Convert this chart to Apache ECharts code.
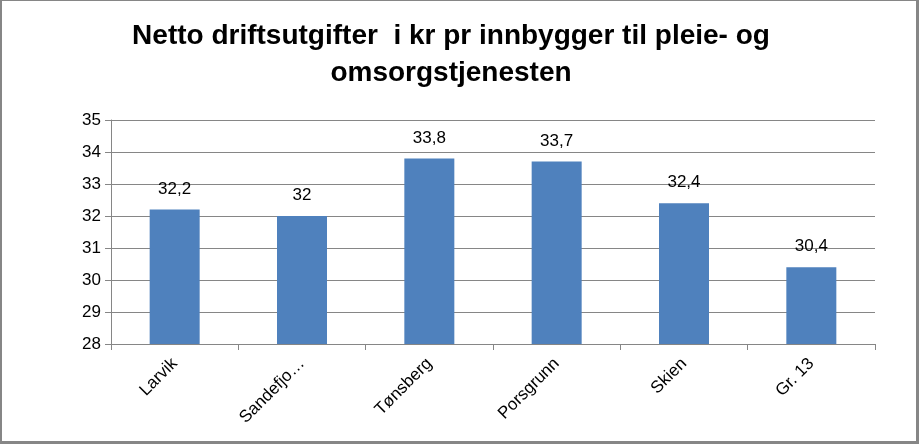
<!DOCTYPE html>
<html>
<head>
<meta charset="utf-8">
<script src="https://cdn.jsdelivr.net/npm/echarts@6/dist/echarts.min.js"></script>
<style>
html,body{margin:0;padding:0;background:#fff;}
#wrap{position:relative;width:919px;height:444px;}
#chart{position:absolute;left:0;top:0;width:919px;height:444px;}
#frame{position:absolute;left:0;top:0;width:919px;height:444px;box-sizing:border-box;
border-top:1px solid #868686;border-left:2px solid #868686;border-right:3px solid #868686;border-bottom:3px solid #868686;pointer-events:none;}
</style>
</head>
<body>
<div id="wrap"><div id="chart"></div><div id="frame"></div></div>
<script>
var titleText = 'Netto driftsutgifter  i kr pr innbygger til pleie- og\nomsorgstjenesten';
var categories = ['Larvik', 'Sandefjo…', 'Tønsberg', 'Porsgrunn', 'Skien', 'Gr. 13'];
var values = [32.2, 32, 33.8, 33.7, 32.4, 30.4];
var yMin = 28, yMax = 35, yStep = 1;

var chart = echarts.init(document.getElementById('chart'));
var font = 'Liberation Sans, Arial, sans-serif';
chart.setOption({
  animation: false,
  title: {
    text: titleText,
    left: 446,
    top: 13,
    textAlign: 'center',
    textStyle: {fontFamily: font, fontWeight: 'bold', fontSize: 28, lineHeight: 37, color: '#000'}
  },
  grid: {left: 111, right: 44, top: 120, bottom: 100, containLabel: false},
  xAxis: {
    type: 'category',
    data: categories,
    axisLine: {lineStyle: {color: '#868686', width: 1}},
    axisTick: {show: true, length: 6, alignWithLabel: false, lineStyle: {color: '#868686'}},
    axisLabel: {rotate: 45, margin: 17, fontFamily: font, fontSize: 17, color: '#000'}
  },
  yAxis: {
    type: 'value',
    min: yMin, max: yMax, interval: yStep,
    axisLine: {show: true, lineStyle: {color: '#868686'}},
    axisTick: {show: true, length: 6, lineStyle: {color: '#868686'}},
    splitLine: {lineStyle: {color: '#868686'}},
    axisLabel: {margin: 10, fontFamily: font, fontSize: 17, color: '#000'}
  },
  series: [{
    type: 'bar',
    data: values,
    barWidth: 50,
    itemStyle: {color: '#4F81BD'},
    label: {
      show: true, position: 'top', distance: 12,
      fontFamily: font, fontSize: 17, color: '#000',
      formatter: function (p) { return String(p.value).replace('.', ','); }
    }
  }]
});
</script>
</body>
</html>
